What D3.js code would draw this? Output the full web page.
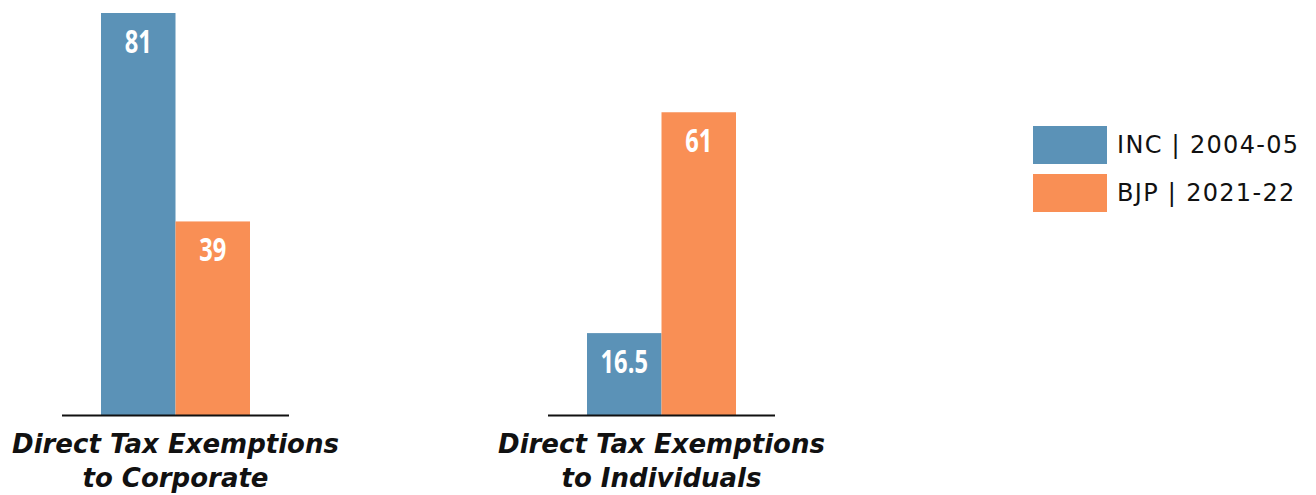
<!DOCTYPE html>
<html>
<head>
<meta charset="utf-8">
<script src="https://cdn.jsdelivr.net/npm/d3@7/dist/d3.min.js"></script>
<style>
  html, body { margin: 0; padding: 0; background: #fff; }
  svg { display: block; }
</style>
</head>
<body>
<svg id="chart" width="1316" height="495"></svg>
<script>
// Categories (each drawn on two lines) and the two series
const categories = ["Direct Tax Exemptions to Corporate", "Direct Tax Exemptions to Individuals"];
const categoryLines = [["Direct Tax Exemptions", "to Corporate"], ["Direct Tax Exemptions", "to Individuals"]];
const seriesNames = ["INC | 2004-05", "BJP | 2021-22"];
const incValues = [81, 16.5];
const bjpValues = [39, 61];
const seriesColors = ["#5b92b7", "#f98f55"];

const svg = d3.select("#chart");
const baseline = 415;

// Outer band per category, inner band per series
const x0 = d3.scaleBand()
  .domain(categories)
  .range([62, 775])
  .paddingInner(259 / 486)
  .paddingOuter(0);

const x1 = d3.scaleBand()
  .domain(seriesNames)
  .range([0, x0.bandwidth()])
  .paddingOuter(39 / 74.5)
  .paddingInner(0);

const y = d3.scaleLinear().domain([0, 81]).range([baseline, 13]);

const rows = categories.map((c, i) => ({
  category: c,
  lines: categoryLines[i],
  values: [
    { series: seriesNames[0], value: incValues[i], color: seriesColors[0] },
    { series: seriesNames[1], value: bjpValues[i], color: seriesColors[1] }
  ]
}));

const groups = svg.selectAll("g.group")
  .data(rows)
  .join("g")
  .attr("class", "group")
  .attr("transform", d => `translate(${x0(d.category)},0)`);

groups.selectAll("rect")
  .data(d => d.values)
  .join("rect")
  .attr("x", d => x1(d.series))
  .attr("y", d => y(d.value))
  .attr("width", x1.bandwidth())
  .attr("height", d => y(0) - y(d.value))
  .attr("fill", d => d.color);

// Value labels inside the top of each bar, horizontally condensed
groups.selectAll("text.value")
  .data(d => d.values)
  .join("text")
  .attr("class", "value")
  .attr("transform", d => `translate(${x1(d.series) + x1.bandwidth() / 2},${y(d.value) + 40}) scale(0.74,1)`)
  .attr("text-anchor", "middle")
  .attr("fill", "#fff")
  .attr("font-family", "'Open Sans', sans-serif")
  .attr("font-weight", "bold")
  .attr("font-size", 32)
  .text(d => d.value);

// Baseline per category
groups.append("line")
  .attr("x1", 0)
  .attr("x2", x0.bandwidth())
  .attr("y1", baseline + 0.5)
  .attr("y2", baseline + 0.5)
  .attr("stroke", "#111")
  .attr("stroke-width", 2);

// Category labels, one text per line
groups.selectAll("text.cat")
  .data(d => d.lines)
  .join("text")
  .attr("class", "cat")
  .attr("x", x0.bandwidth() / 2)
  .attr("y", (d, i) => 453 + i * 34)
  .attr("text-anchor", "middle")
  .attr("font-family", "'DejaVu Sans', sans-serif")
  .attr("font-weight", "bold")
  .attr("font-style", "italic")
  .attr("font-size", 26)
  .attr("fill", "#111")
  .text(d => d);

// Legend
const legend = svg.append("g").attr("transform", "translate(1033,126)");
const items = legend.selectAll("g")
  .data(seriesNames)
  .join("g")
  .attr("transform", (d, i) => `translate(0,${i * 48})`);
items.append("rect")
  .attr("width", 74)
  .attr("height", 38)
  .attr("fill", (d, i) => seriesColors[i]);
items.append("text")
  .attr("x", 84)
  .attr("y", 19)
  .attr("dy", "0.35em")
  .attr("font-family", "'DejaVu Sans', sans-serif")
  .attr("font-size", 24)
  .attr("letter-spacing", 1.3)
  .attr("fill", "#111")
  .text(d => d);
</script>
</body>
</html>
